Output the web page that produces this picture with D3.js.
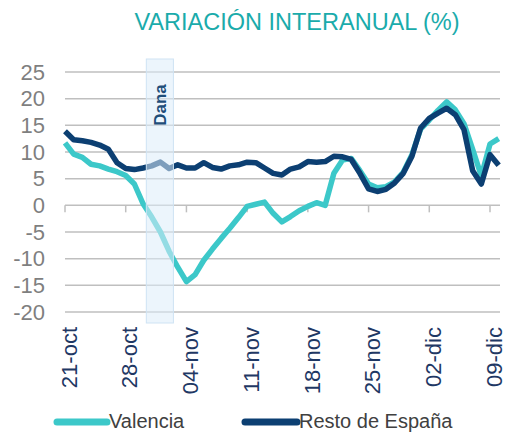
<!DOCTYPE html>
<html>
<head>
<meta charset="utf-8">
<script src="https://cdn.jsdelivr.net/npm/d3@7"></script>
<style>
  body { margin: 0; background: #fff; }
  svg { font-family: "Liberation Sans", Arial, sans-serif; display: block; }
</style>
</head>
<body>
<div id="cont"></div>
<script>

// daily series, starting 21-oct
var startDate = "2024-10-21";
var valencia = [11.7, 9.6, 9.0, 7.7, 7.4, 6.8, 6.3, 5.6, 4.0, 0.3,
                -2.2, -5.0, -8.6, -11.6, -14.3, -13.0, -10.3, -8.2, -6.2, -4.3,
                -2.3, -0.2, 0.2, 0.6, -1.5, -3.1, -2.1, -1.0, -0.2, 0.5,
                0.0, 6.0, 8.5, 8.8, 6.5, 4.0, 3.3, 3.5, 4.4, 6.2,
                9.5, 14.3, 16.0, 17.8, 19.4, 17.9, 15.3, 10.5, 5.5, 11.5, 12.5];
var resto = [13.9, 12.3, 12.1, 11.8, 11.3, 10.5, 8.0, 6.9, 6.7, 7.0,
             7.4, 8.1, 6.9, 7.6, 7.0, 7.0, 8.0, 7.1, 6.8, 7.4,
             7.6, 8.1, 8.0, 7.0, 6.0, 5.7, 6.8, 7.2, 8.2, 8.1,
             8.2, 9.2, 9.1, 8.6, 6.0, 3.1, 2.6, 3.0, 4.2, 6.0,
             9.2, 14.5, 16.3, 17.3, 18.2, 17.0, 14.2, 6.5, 4.0, 9.5, 7.5];
var tickDates = ["2024-10-21", "2024-10-28", "2024-11-04", "2024-11-11",
                 "2024-11-18", "2024-11-25", "2024-12-02", "2024-12-09"];
var tickLabels = ["21-oct", "28-oct", "04-nov", "11-nov", "18-nov", "25-nov", "02-dic", "09-dic"];
var yTicks = [25, 20, 15, 10, 5, 0, -5, -10, -15, -20];
var danaRange = ["2024-10-30T09:00:00Z", "2024-11-02T12:00:00Z"];
var seriesNames = ["Valencia", "Resto de España"];
var seriesColors = ["#3cc8c9", "#0c3f72"];

var W = 507, H = 433;

var parseDay = d3.utcParse("%Y-%m-%d");
var t0 = parseDay(startDate);
var dayOf = function(i) { return d3.utcDay.offset(t0, i); };

// set the ranges
var x = d3.scaleUtc()
    .domain([parseDay(tickDates[0]), parseDay(tickDates[tickDates.length - 1])])
    .range([65, 490]);
var y = d3.scaleLinear().domain([-20, 25]).range([312, 72]);

var svg = d3.select("#cont").append("svg")
    .attr("width", W)
    .attr("height", H);

// title
svg.append("text")
    .attr("x", 297)
    .attr("y", 30)
    .attr("text-anchor", "middle")
    .style("font-size", "23.5px")
    .style("fill", "#1aabab")
    .text("VARIACIÓN INTERANUAL (%)");

// gridlines
svg.append("g").selectAll("line")
    .data(yTicks)
  .enter().append("line")
    .attr("x1", 65).attr("x2", 500)
    .attr("y1", function(d) { return y(d); })
    .attr("y2", function(d) { return y(d); })
    .style("stroke", "#bfbfbf")
    .style("stroke-width", 1.5);

// y labels
svg.append("g").selectAll("text")
    .data(yTicks)
  .enter().append("text")
    .attr("x", 45)
    .attr("y", function(d) { return y(d); })
    .attr("dy", "0.35em")
    .attr("text-anchor", "end")
    .style("font-size", "22px")
    .style("fill", "#7f7f7f")
    .text(function(d) { return d; });

// tick marks on the zero line
svg.append("g").selectAll("line")
    .data(tickDates)
  .enter().append("line")
    .attr("x1", function(d) { return x(parseDay(d)); })
    .attr("x2", function(d) { return x(parseDay(d)); })
    .attr("y1", y(0))
    .attr("y2", y(0) + 7)
    .style("stroke", "#bfbfbf")
    .style("stroke-width", 1.5);

// x labels
svg.append("g").selectAll("text")
    .data(tickDates)
  .enter().append("text")
    .attr("transform", function(d) { return "translate(" + (x(parseDay(d)) + 4) + ",327) rotate(-90)"; })
    .attr("dy", "0.35em")
    .attr("text-anchor", "end")
    .style("font-size", "22px")
    .style("fill", "#1f3864")
    .text(function(d, i) { return tickLabels[i]; });

// the lines
var valueline = d3.line()
    .x(function(d, i) { return x(dayOf(i)); })
    .y(function(d) { return y(d); });

[valencia, resto].forEach(function(s, k) {
  svg.append("path")
      .datum(s)
      .attr("d", valueline)
      .style("fill", "none")
      .style("stroke", seriesColors[k])
      .style("stroke-width", 5.5)
      .style("stroke-linejoin", "round");
});

// Dana band, drawn over the lines
var bx0 = x(new Date(danaRange[0])), bx1 = x(new Date(danaRange[1]));
svg.append("rect")
    .attr("x", bx0)
    .attr("y", 59)
    .attr("width", bx1 - bx0)
    .attr("height", 264)
    .style("fill", "#dcecf9")
    .style("fill-opacity", 0.55)
    .style("stroke", "#cfe3f4")
    .style("stroke-width", 1);

svg.append("text")
    .attr("transform", "translate(" + ((bx0 + bx1) / 2) + ",105) rotate(-90)")
    .attr("dy", "0.35em")
    .attr("text-anchor", "middle")
    .style("font-size", "17px")
    .style("font-weight", "bold")
    .style("fill", "#1f4e79")
    .text("Dana");

// legend
var legendX = [[57, 107], [245, 297]];
seriesNames.forEach(function(n, k) {
  svg.append("line")
      .attr("x1", legendX[k][0]).attr("x2", legendX[k][1])
      .attr("y1", 422).attr("y2", 422)
      .style("stroke", seriesColors[k])
      .style("stroke-width", 7)
      .style("stroke-linecap", "round");
  svg.append("text")
      .attr("x", legendX[k][1] + 2)
      .attr("y", 428)
      .style("font-size", "20px")
      .style("fill", "#404040")
      .text(n);
});

</script>
</body>
</html>
